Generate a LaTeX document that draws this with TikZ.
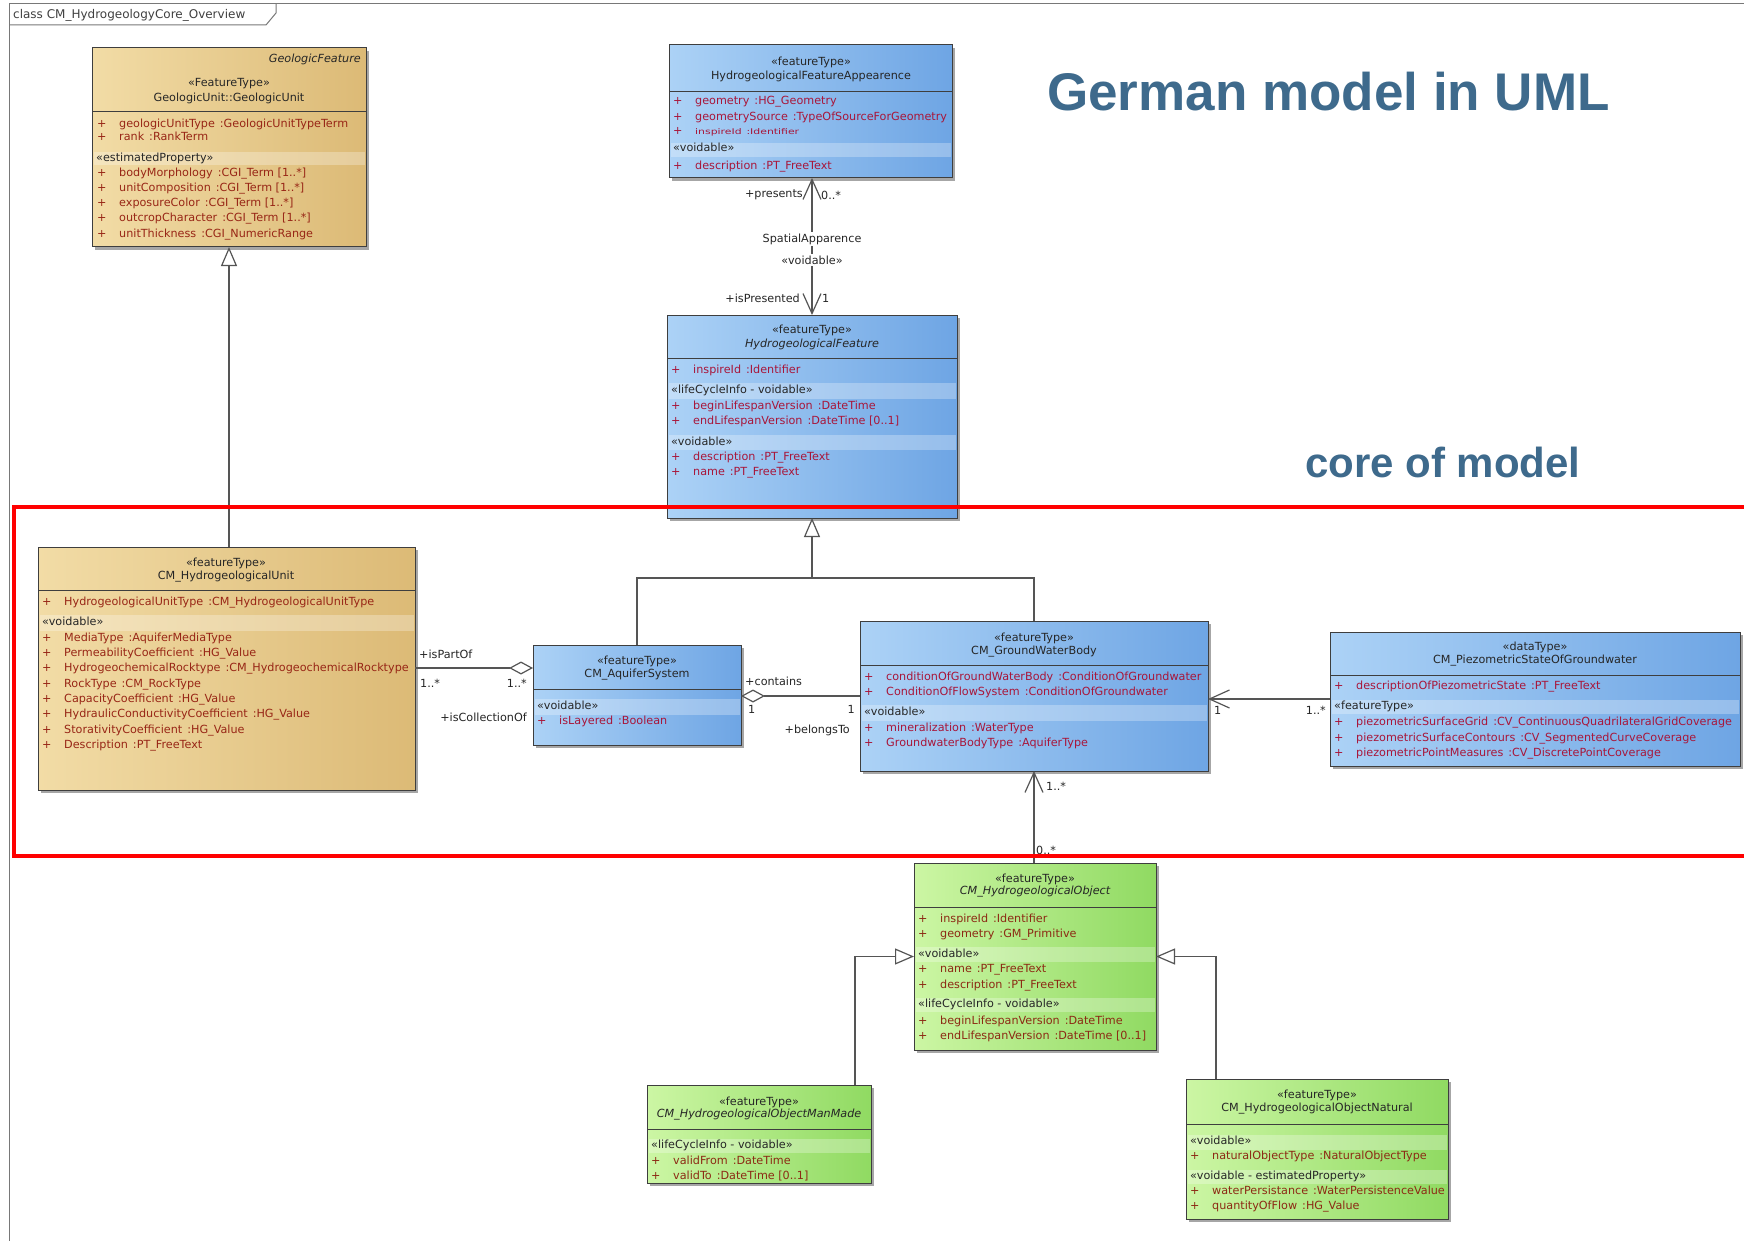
\documentclass[tikz,border=0pt]{standalone}
\usepackage{fontspec}
\usepackage{graphicx}
\setmainfont{DejaVu Sans}
\newfontfamily\titlefont{Liberation Sans}
\usetikzlibrary{arrows.meta,shadows,calc}

\definecolor{tanL}{RGB}{242,220,166}
\definecolor{tanD}{RGB}{220,186,118}
\definecolor{blueL}{RGB}{172,210,246}
\definecolor{blueD}{RGB}{110,165,228}
\definecolor{greenL}{RGB}{204,246,164}
\definecolor{greenD}{RGB}{144,218,98}
\definecolor{boxline}{RGB}{62,62,62}
\definecolor{connline}{RGB}{85,85,85}
\definecolor{tanattr}{RGB}{152,38,22}
\definecolor{blueattr}{RGB}{168,22,58}
\definecolor{greenattr}{RGB}{140,42,20}
\definecolor{titleblue}{RGB}{62,106,140}
\definecolor{frameline}{RGB}{120,120,120}

\newcommand\tsep{\hspace{5pt}:}
\newcommand\umltxt{\fontsize{11.2}{13}\selectfont}

% class rectangle with the line under its name compartment
\newcommand\umlclass[7]{%
  \node[#2, minimum width={#5-#3}, minimum height={#6-#4}] (#1) at (#3,#4) {};
  \draw[sepline] (#3,#7) -- (#5,#7);
}
% lighter strip behind a stereotype heading inside a class
\newcommand\umlband[4]{\fill[band] (#1+1.5,#3) rectangle (#2-1.5,#4);}
% attribute rows: prefix, x, colour, list of y/text
\newcommand\umlattrs[4]{%
  \foreach \yy/\atxt [count=\ii] in {#4} {%
    \node[attrtext, text=#3] (#1-a\ii) at (#2,\yy) {\makebox[22pt][l]{+}\atxt};}%
}

\tikzset{
  umlbox/.style={draw=boxline, line width=1pt, inner sep=0pt, outer sep=0pt,
    anchor=north west,
    drop shadow={shadow xshift=3pt, shadow yshift=-3pt, opacity=0.35, fill=black}},
  tanbox/.style={umlbox, left color=tanL, right color=tanD},
  bluebox/.style={umlbox, left color=blueL, right color=blueD},
  greenbox/.style={umlbox, left color=greenL, right color=greenD},
  sepline/.style={draw=boxline, line width=1pt},
  band/.style={fill=white, opacity=0.28},
  headtext/.style={font=\umltxt, text=black!85, inner sep=0pt},
  sectext/.style={font=\umltxt, text=black!85, inner sep=0pt, anchor=mid west},
  attrtext/.style={font=\umltxt, inner sep=0pt, anchor=mid west},
  lbl/.style={font=\umltxt, text=black!85, inner sep=0pt},
  conn/.style={draw=connline, line width=1.2pt},
  gen/.style={conn, -{Triangle[open, length=19pt, width=16pt, fill=white]}},
  agg/.style={conn, -{Diamond[open, length=24pt, width=13pt, fill=white]}},
  nav/.style={conn, -{Straight Barb[length=20pt, width=18pt]}},
  biNav/.style={conn, {Straight Barb[length=20pt, width=18pt]}-{Straight Barb[length=20pt, width=18pt]}},
}

\begin{document}
\begin{tikzpicture}[x=1pt, y=-1pt]
\useasboundingbox (0,0) rectangle (1744,1241);
\fill[white] (0,0) rectangle (1744,1241);
\clip (0,0) rectangle (1744,1241);

% diagram frame and its name tab
\draw[frameline, line width=1pt] (9,1260) -- (9,4) -- (1780,4);
\draw[frameline, line width=1pt] (9,25) -- (266,25) -- (276,13) -- (276,4);
\node[anchor=west, font=\fontsize{12}{14}\selectfont, text=black!75, inner sep=0pt]
  (frametitle) at (13,15) {class CM\_HydrogeologyCore\_Overview};

% ---------------- classes ----------------
% GeologicUnit
\umlclass{gu}{tanbox}{92}{48}{366}{247}{112}
\umlband{92}{366}{152}{165}
\node[headtext, anchor=mid east, font=\umltxt\itshape] (gu-h0) at (361,60) {GeologicFeature};
\node[headtext] (gu-h1) at (229,84) {«FeatureType»};
\node[headtext] (gu-h2) at (229,98) {GeologicUnit::GeologicUnit};
\umlattrs{gu}{97}{tanattr}{125/{geologicUnitType\tsep GeologicUnitTypeTerm},
  138/{rank\tsep RankTerm}}
\node[sectext] (gu-s1) at (96,159) {«estimatedProperty»};
\umlattrs{gub}{97}{tanattr}{174/{bodyMorphology\tsep CGI\_Term [1..*]},
  189/{unitComposition\tsep CGI\_Term [1..*]},
  204/{exposureColor\tsep CGI\_Term [1..*]},
  219/{outcropCharacter\tsep CGI\_Term [1..*]},
  235/{unitThickness\tsep CGI\_NumericRange}}

% HydrogeologicalFeatureAppearence
\umlclass{hfa}{bluebox}{669}{45}{952}{178}{92}
\umlband{669}{952}{143}{157}
\node[headtext] (hfa-h1) at (811,62) {«featureType»};
\node[headtext] (hfa-h2) at (811,76) {HydrogeologicalFeatureAppearence};
\umlattrs{hfa}{673}{blueattr}{102/{geometry\tsep HG\_Geometry},
  118/{geometrySource\tsep TypeOfSourceForGeometry}}
\node[attrtext, text=blueattr] (hfa-a3) at (673,132)
  {\makebox[22pt][l]{+}\scalebox{0.97}[0.7]{inspireId\tsep Identifier}};
\node[sectext] (hfa-s1) at (673,149) {«voidable»};
\umlattrs{hfab}{673}{blueattr}{167/{description\tsep PT\_FreeText}}

% HydrogeologicalFeature
\umlclass{hf}{bluebox}{667}{315}{957}{518}{358}
\umlband{667}{957}{383}{399}
\umlband{667}{957}{435}{450}
\node[headtext] (hf-h1) at (812,330) {«featureType»};
\node[headtext, font=\umltxt\itshape] (hf-h2) at (812,344) {HydrogeologicalFeature};
\umlattrs{hf}{671}{blueattr}{371/{inspireId\tsep Identifier}}
\node[sectext] (hf-s1) at (671,391) {«lifeCycleInfo - voidable»};
\umlattrs{hfb}{671}{blueattr}{407/{beginLifespanVersion\tsep DateTime},
  422/{endLifespanVersion\tsep DateTime [0..1]}}
\node[sectext] (hf-s2) at (671,443) {«voidable»};
\umlattrs{hfc}{671}{blueattr}{458/{description\tsep PT\_FreeText},
  473/{name\tsep PT\_FreeText}}

% CM_HydrogeologicalUnit
\umlclass{hu}{tanbox}{38}{547}{415}{790}{590}
\umlband{38}{415}{615}{631}
\node[headtext] (hu-h1) at (226,563) {«featureType»};
\node[headtext] (hu-h2) at (226,577) {CM\_HydrogeologicalUnit};
\umlattrs{hu}{42}{tanattr}{603/{HydrogeologicalUnitType\tsep CM\_HydrogeologicalUnitType}}
\node[sectext] (hu-s1) at (42,623) {«voidable»};
\umlattrs{hub}{42}{tanattr}{639/{MediaType\tsep AquiferMediaType},
  654/{PermeabilityCoefficient\tsep HG\_Value},
  669/{HydrogeochemicalRocktype\tsep CM\_HydrogeochemicalRocktype},
  685/{RockType\tsep CM\_RockType},
  700/{CapacityCoefficient\tsep HG\_Value},
  715/{HydraulicConductivityCoefficient\tsep HG\_Value},
  731/{StorativityCoefficient\tsep HG\_Value},
  746/{Description\tsep PT\_FreeText}}

% CM_AquiferSystem
\umlclass{as}{bluebox}{533}{645}{741}{745}{689}
\umlband{533}{741}{699}{715}
\node[headtext] (as-h1) at (637,661) {«featureType»};
\node[headtext] (as-h2) at (637,675) {CM\_AquiferSystem};
\node[sectext] (as-s1) at (537,707) {«voidable»};
\umlattrs{as}{537}{blueattr}{722/{isLayered\tsep Boolean}}

% CM_GroundWaterBody
\umlclass{gwb}{bluebox}{860}{621}{1208}{771}{665}
\umlband{860}{1208}{705}{721}
\node[headtext] (gwb-h1) at (1034,638) {«featureType»};
\node[headtext] (gwb-h2) at (1034,652) {CM\_GroundWaterBody};
\umlattrs{gwb}{864}{blueattr}{678/{conditionOfGroundWaterBody\tsep ConditionOfGroundwater},
  693/{ConditionOfFlowSystem\tsep ConditionOfGroundwater}}
\node[sectext] (gwb-s1) at (864,713) {«voidable»};
\umlattrs{gwbb}{864}{blueattr}{729/{mineralization\tsep WaterType},
  744/{GroundwaterBodyType\tsep AquiferType}}

% CM_PiezometricStateOfGroundwater
\umlclass{ps}{bluebox}{1330}{632}{1740}{766}{675}
\umlband{1330}{1740}{700}{714}
\node[headtext] (ps-h1) at (1535,647) {«dataType»};
\node[headtext] (ps-h2) at (1535,661) {CM\_PiezometricStateOfGroundwater};
\umlattrs{ps}{1334}{blueattr}{687/{descriptionOfPiezometricState\tsep PT\_FreeText}}
\node[sectext] (ps-s1) at (1334,707) {«featureType»};
\umlattrs{psb}{1334}{blueattr}{723/{piezometricSurfaceGrid\tsep CV\_ContinuousQuadrilateralGridCoverage},
  739/{piezometricSurfaceContours\tsep CV\_SegmentedCurveCoverage},
  754/{piezometricPointMeasures\tsep CV\_DiscretePointCoverage}}

% CM_HydrogeologicalObject
\umlclass{ho}{greenbox}{914}{863}{1156}{1050}{907}
\umlband{914}{1156}{947}{962}
\umlband{914}{1156}{998}{1012}
\node[headtext] (ho-h1) at (1035,879) {«featureType»};
\node[headtext, font=\umltxt\itshape] (ho-h2) at (1035,892) {CM\_HydrogeologicalObject};
\umlattrs{ho}{918}{greenattr}{920/{inspireId\tsep Identifier},
  935/{geometry\tsep GM\_Primitive}}
\node[sectext] (ho-s1) at (918,955) {«voidable»};
\umlattrs{hob}{918}{greenattr}{970/{name\tsep PT\_FreeText},
  986/{description\tsep PT\_FreeText}}
\node[sectext] (ho-s2) at (918,1005) {«lifeCycleInfo - voidable»};
\umlattrs{hoc}{918}{greenattr}{1022/{beginLifespanVersion\tsep DateTime},
  1037/{endLifespanVersion\tsep DateTime [0..1]}}

% CM_HydrogeologicalObjectManMade
\umlclass{mm}{greenbox}{647}{1085}{871}{1183}{1129}
\umlband{647}{871}{1139}{1153}
\node[headtext] (mm-h1) at (759,1102) {«featureType»};
\node[headtext, font=\umltxt\itshape] (mm-h2) at (759,1115) {CM\_HydrogeologicalObjectManMade};
\node[sectext] (mm-s1) at (651,1146) {«lifeCycleInfo - voidable»};
\umlattrs{mm}{651}{greenattr}{1162/{validFrom\tsep DateTime},
  1177/{validTo\tsep DateTime [0..1]}}

% CM_HydrogeologicalObjectNatural
\umlclass{nat}{greenbox}{1186}{1079}{1448}{1219}{1124}
\umlband{1186}{1448}{1135}{1150}
\umlband{1186}{1448}{1170}{1184}
\node[headtext] (nat-h1) at (1317,1095) {«featureType»};
\node[headtext] (nat-h2) at (1317,1109) {CM\_HydrogeologicalObjectNatural};
\node[sectext] (nat-s1) at (1190,1142) {«voidable»};
\umlattrs{nat}{1190}{greenattr}{1157/{naturalObjectType\tsep NaturalObjectType}}
\node[sectext] (nat-s2) at (1190,1177) {«voidable - estimatedProperty»};
\umlattrs{natb}{1190}{greenattr}{1192/{waterPersistance\tsep WaterPersistenceValue},
  1207/{quantityOfFlow\tsep HG\_Value}}

% ---------------- relationships ----------------
% generalisations
\draw[gen] (hu.north -| gu.south) -- (gu.south);
\coordinate (gj) at ($(hf.south)+(0,60)$);
\draw[conn] (gwb.north) |- (gj);
\draw[gen] (as.north) |- (gj) -- (hf.south);
\draw[gen] ([xshift=96pt]mm.north) |- (ho.west);
\draw[gen] ([xshift=-101pt]nat.north) |- (ho.east);

% SpatialApparence association
\draw[biNav] (hfa.south -| hf.north) -- (hf.north);
\node[lbl, anchor=east] (l-presents) at (803,195) {+presents};
\node[lbl, anchor=west] (l-presm) at (821,195) {0..*};
\node[lbl, fill=white, inner sep=1.5pt] (l-spatial) at (812,239) {SpatialApparence};
\node[lbl, fill=white, inner sep=1.5pt] (l-spvoid) at (812,260) {«voidable»};
\node[lbl, anchor=east] (l-ispres) at (800,298) {+isPresented};
\node[lbl, anchor=west] (l-ispresm) at (822,298) {1};

% aggregations
\draw[agg] (hu.east |- 0,668) -- (as.west |- 0,668);
\node[lbl, anchor=west] (l-ispartof) at (419,654) {+isPartOf};
\node[lbl, anchor=west] (l-ispartofm) at (420,683) {1..*};
\node[lbl, anchor=east] (l-collm) at (527,683) {1..*};
\node[lbl, anchor=east] (l-coll) at (527,717) {+isCollectionOf};

\draw[agg] (gwb.west) -- (gwb.west -| as.east);
\node[lbl, anchor=west] (l-contains) at (745,681) {+contains};
\node[lbl, anchor=west] (l-containsm) at (748,709) {1};
\node[lbl, anchor=east] (l-belongsm) at (855,709) {1};
\node[lbl, anchor=east] (l-belongs) at (850,730) {+belongsTo};

% directed associations
\draw[nav] (ps.west) -- (ps.west -| gwb.east);
\node[lbl, anchor=west] (l-psm1) at (1214,710) {1};
\node[lbl, anchor=east] (l-psm2) at (1326,710) {1..*};

\draw[nav] (gwb.south |- ho.north) -- (gwb.south);
\node[lbl, anchor=west] (l-hom1) at (1046,786) {1..*};
\node[lbl, anchor=west] (l-hom2) at (1036,850) {0..*};

% ---------------- annotations ----------------
\draw[red, line width=3.5pt] (14,507) rectangle (1790,856);
\node[anchor=west, inner sep=0pt, text=titleblue,
  font=\titlefont\bfseries\fontsize{53}{60}\selectfont] (title) at (1047,92) {German model in UML};
\node[anchor=west, inner sep=0pt, text=titleblue,
  font=\titlefont\bfseries\fontsize{42}{48}\selectfont] (core) at (1305,462) {core of model};
\end{tikzpicture}
\end{document}
